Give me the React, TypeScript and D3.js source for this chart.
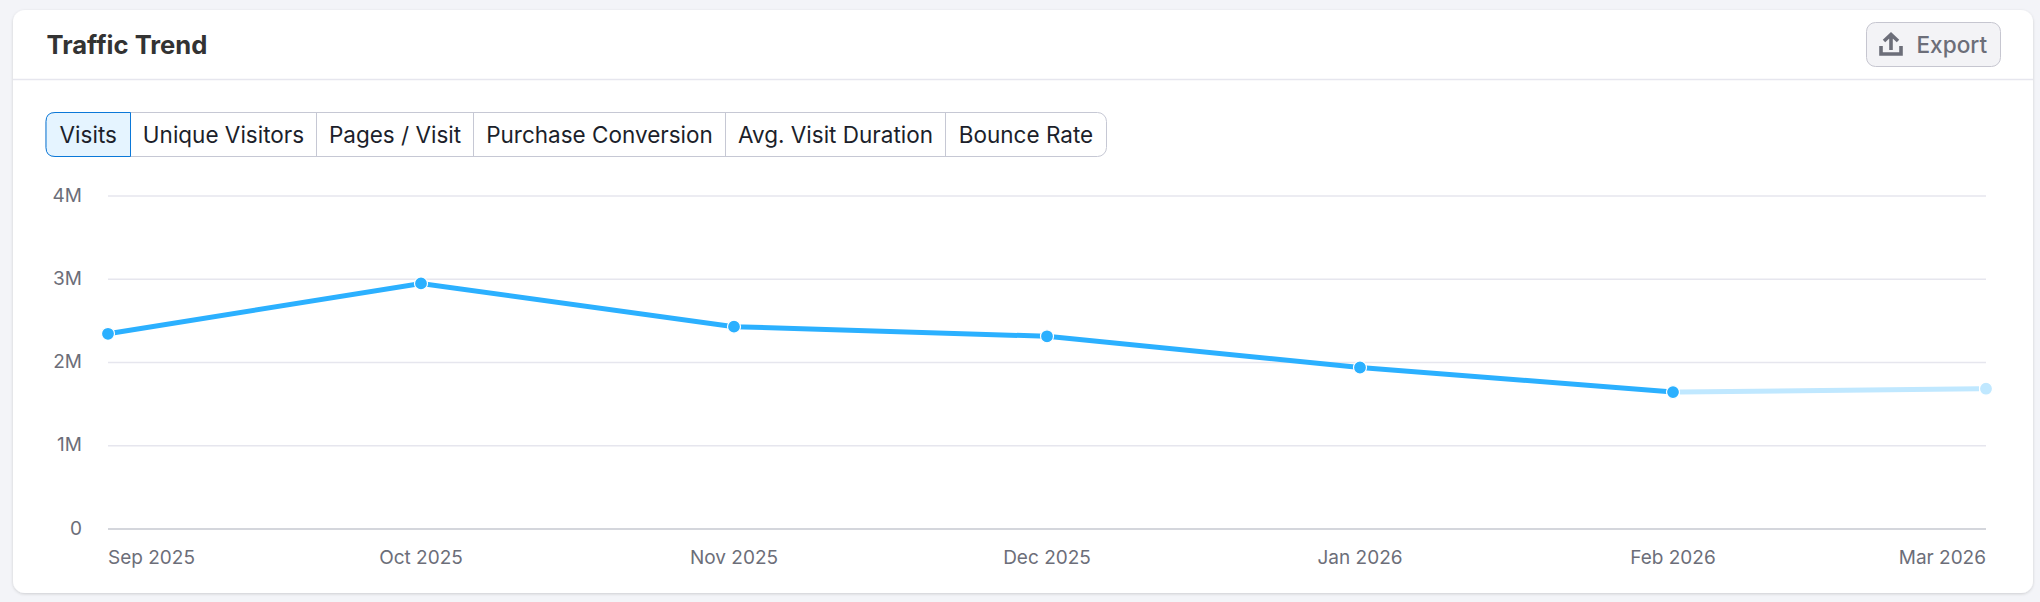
import React from "react";
import * as d3 from "d3";

const months = ["Sep 2025", "Oct 2025", "Nov 2025", "Dec 2025", "Jan 2026", "Feb 2026", "Mar 2026"];
const visits = [2.345, 2.95, 2.43, 2.315, 1.94, 1.645, 1.685];
const yTicks = [0, 1, 2, 3, 4];
const tabs = ["Visits", "Unique Visitors", "Pages / Visit", "Purchase Conversion", "Avg. Visit Duration", "Bounce Rate"];
const tabEdges = [46, 130.5, 316.5, 473.5, 725.5, 945.5, 1106.5];

const FONT = "Inter, sans-serif";
const BLUE = "#2bb0ff";
const PALE = "#c0e8ff";

export default function App() {
  const x = d3.scalePoint<string>().domain(months).range([108, 1986]);
  const y = d3.scaleLinear().domain([0, 4]).range([529, 196]);
  const line = d3.line<number>().x((_, i) => x(months[i])!).y((d) => y(d));
  const solid = visits.slice(0, 6);
  const last = visits.length - 1;
  const seg = (a: number, b: number, gap: number) => {
    const x0 = x(months[a])!, x1 = x(months[b])!, y0 = y(visits[a]), y1 = y(visits[b]);
    const len = Math.hypot(x1 - x0, y1 - y0), ux = (x1 - x0) / len, uy = (y1 - y0) / len;
    return { x1: x0 + ux * gap, y1: y0 + uy * gap, x2: x1 - ux * gap, y2: y1 - uy * gap };
  };
  return (
    <svg width={2040} height={602} style={{ position: "absolute", left: 0, top: 0, display: "block" }} fontFamily={FONT}>
      <defs>
        <filter id="cardShadow" x="-2%" y="-5%" width="104%" height="110%">
          <feDropShadow dx="0" dy="1" stdDeviation="1.5" floodColor="#000" floodOpacity="0.16" />
        </filter>
      </defs>
      <rect width={2040} height={602} fill="#f3f4f8" />
      <rect x={13} y={10} width={2020} height={583} rx={12} fill="#fff" filter="url(#cardShadow)" />
      <line x1={13} x2={2033} y1={79.5} y2={79.5} stroke="#e6e6ee" strokeWidth={1.5} />
      <text x={46.5} y={54} fontSize={25.6} fontWeight={700} fill="#333">Traffic Trend</text>

      <rect x={1866.5} y={22.5} width={134} height={44} rx={9} fill="#f3f3f6" stroke="#c6c6d0" strokeWidth={1} />
      <path d="M1891 35 L1891 50 M1884 41 L1891 34.5 L1898 41 M1881 46 L1881 54 L1901 54 L1901 46" fill="none" stroke="#6c6e79" strokeWidth={3.6} />
      <text x={1916.5} y={52.5} fontSize={22.6} fontWeight={500} fill="#6c6e79">Export</text>

      <rect x={tabEdges[0]} y={112.5} width={tabEdges[6] - tabEdges[0]} height={44} rx={9} fill="#fff" stroke="#c6c8d4" strokeWidth={1} />
      <path d={`M${tabEdges[1]} 112.5 L${tabEdges[0] + 9} 112.5 Q${tabEdges[0]} 112.5 ${tabEdges[0]} 121.5 L${tabEdges[0]} 147.5 Q${tabEdges[0]} 156.5 ${tabEdges[0] + 9} 156.5 L${tabEdges[1]} 156.5 Z`} fill="#e5f4ff" stroke="#0b78d8" strokeWidth={1} />
      {tabEdges.slice(2, 6).map((e) => (
        <line key={e} x1={e} x2={e} y1={112.5} y2={156.5} stroke="#c6c8d4" strokeWidth={1} />
      ))}
      {tabs.map((t, i) => (
        <text key={t} x={(tabEdges[i] + tabEdges[i + 1]) / 2} y={143} textAnchor="middle" fontSize={22.5} fill="#1c1f2b">{t}</text>
      ))}

      {yTicks.map((t) => (
        <g key={t}>
          <line x1={108} x2={1986} y1={y(t)} y2={y(t)} stroke={t === 0 ? "#c6c8d0" : "#e6e6ee"} strokeWidth={1.5} />
          <text x={82} y={y(t) + 0.5} textAnchor="end" dominantBaseline="middle" fontSize={19} fill="#6c6e79">{t === 0 ? "0" : `${t}M`}</text>
        </g>
      ))}
      {months.map((m, i) => (
        <text key={m} x={x(m)!} y={564} textAnchor={i === 0 ? "start" : i === last ? "end" : "middle"} fontSize={19} fill="#6c6e79">{m}</text>
      ))}

      <path d={line(solid)!} fill="none" stroke={BLUE} strokeWidth={5} />
      <line {...seg(5, 6, 7)} stroke={PALE} strokeWidth={5} />
      {visits.map((v, i) => (
        <circle key={months[i]} cx={x(months[i])!} cy={y(v)} r={6.5} fill={i === last ? PALE : BLUE} stroke="#fff" strokeWidth={1.2} />
      ))}
    </svg>
  );
}
